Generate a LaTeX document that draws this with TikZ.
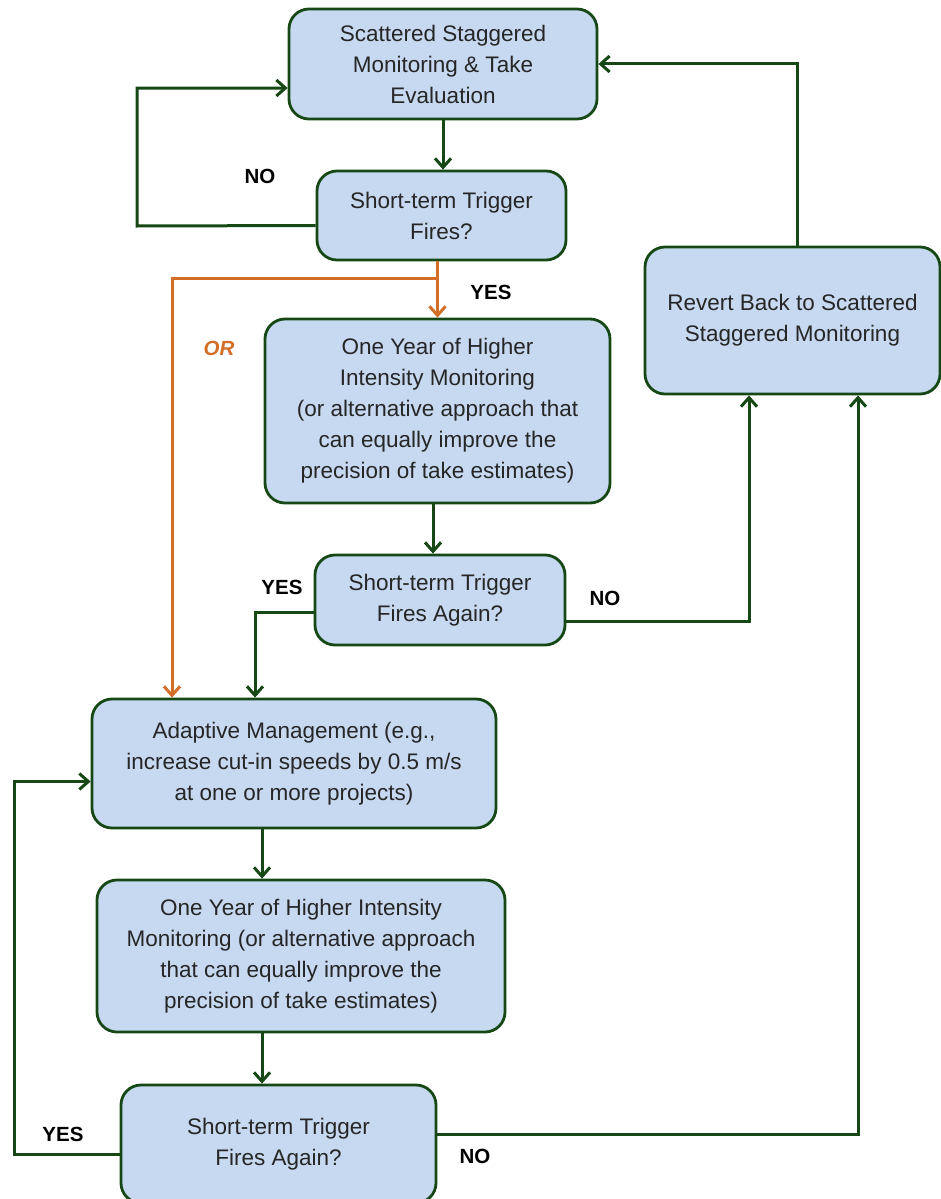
\documentclass[tikz,border=0pt]{standalone}
\usepackage{fontspec}
\setmainfont{Liberation Sans}
\usetikzlibrary{arrows.meta,calc}
\definecolor{boxfill}{RGB}{198,217,240}
\definecolor{boxline}{RGB}{22,72,22}
\definecolor{orangeline}{RGB}{210,110,40}
\begin{document}
\begin{tikzpicture}[x=1pt,y=-1pt,
  box/.style={draw=boxline, fill=boxfill, line width=2.8pt, rounded corners=20pt,
    align=center, inner sep=0pt, font=\fontsize{22.5}{31}\selectfont, text=black!85},
  arr/.style={draw=boxline, line width=3pt, -{Straight Barb[length=9pt,width=16pt]}},
  oarr/.style={arr, draw=orangeline},
  lbl/.style={font=\fontsize{20.5}{24}\selectfont\bfseries, text=black, inner sep=0pt}]
\useasboundingbox (0,0) rectangle (941,1199);

\node[box, minimum width=308pt, minimum height=110pt] (b1) at (443,64)
  {\raisebox{0pt}[\height][\depth]{}Scattered Staggered\\Monitoring \& Take\\Evaluation};
\node[box, minimum width=249pt, minimum height=89pt] (b2) at (441.5,215.5)
  {Short-term Trigger\\Fires?};
\node[box, minimum width=345pt, minimum height=184pt] (b3) at (437.5,411)
  {One Year of Higher\\Intensity Monitoring\\(or alternative approach that\\can equally improve the\\precision of take estimates)};
\node[box, minimum width=250pt, minimum height=90pt] (b4) at (440,600)
  {Short-term Trigger\\Fires Again?};
\node[box, minimum width=295pt, minimum height=147pt] (b5) at (792.5,320.5)
  {Revert Back to Scattered\\Staggered Monitoring};
\node[box, minimum width=404pt, minimum height=129pt] (b6) at (294,763.5)
  {Adaptive Management (e.g.,\\increase cut-in speeds by 0.5 m/s\\at one or more projects)};
\node[box, minimum width=408pt, minimum height=152pt] (b7) at (301,956)
  {One Year of Higher Intensity\\Monitoring (or alternative approach\\that can equally improve the\\precision of take estimates)};
\node[box, minimum width=315pt, minimum height=118pt] (b8) at (278.5,1144)
  {Short-term Trigger\\Fires Again?};

\node[lbl] (lno1) at (260,176) {NO};
\node[lbl] (lyes1) at (491,292) {YES};
\node[lbl, text=orangeline, font=\fontsize{20.5}{24}\selectfont\bfseries\itshape] (lor) at (219,348) {OR};
\node[lbl] (lyes2) at (282,587) {YES};
\node[lbl] (lno2) at (605,598) {NO};
\node[lbl] (lyes3) at (63,1134) {YES};
\node[lbl] (lno3) at (475,1156) {NO};

\coordinate (c1) at (137,226);
\coordinate (c2) at (437.5,278);
\coordinate (c3) at (172,278);
\coordinate (c4) at (255,612);
\coordinate (c5) at (749,621);
\coordinate (c6) at (797,64);
\coordinate (c7) at (262,0);
\coordinate (c8) at (14,1154);
\coordinate (c9) at (858,1134);

\draw[arr] (b1.south) -- (b1.south |- b2.north);
\draw[arr] ([yshift=-10pt]b2.west) -- (c1) |- ([yshift=-24pt]b1.west);
\draw[oarr] (b2.south -| b3.north) -- (b3.north);
\draw[oarr] (c2) -- (c3) -- (c3 |- b6.north);
\draw[arr] ([xshift=-4.5pt]b3.south) -- ([xshift=-4.5pt]b3.south |- b4.north);
\draw[arr] ([yshift=-12pt]b4.west) -- (c4) -- (c4 |- b6.north);
\draw[arr] ([yshift=-21pt]b4.east) -- (c5) -- (c5 |- b5.south);
\draw[arr] (c6 |- b5.north) -- (c6) -- (b1.east);
\draw[arr] (c7 |- b6.south) -- (c7 |- b7.north);
\draw[arr] (c7 |- b7.south) -- (c7 |- b8.north);
\draw[arr] ([yshift=-10pt]b8.west) -- (c8) |- ([yshift=-18pt]b6.west);
\draw[arr] ([yshift=10pt]b8.east) -- (c9) -- (c9 |- b5.south);
\end{tikzpicture}
\end{document}
